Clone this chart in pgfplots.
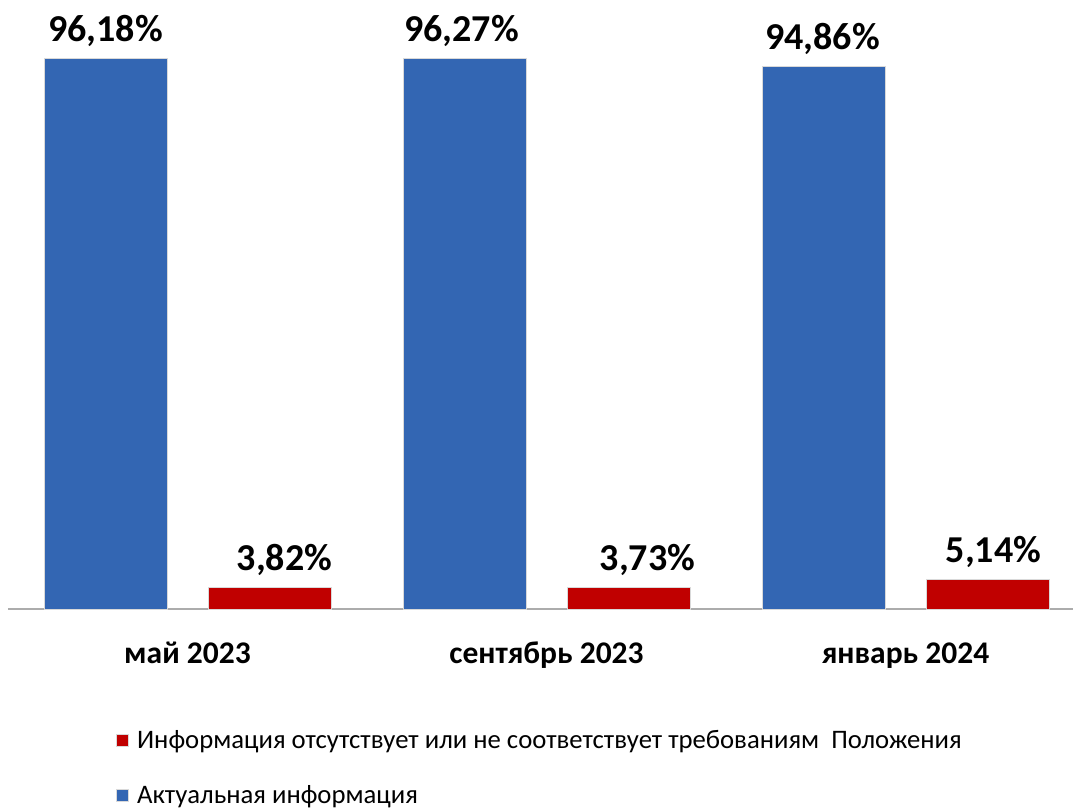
\documentclass[border=0pt]{standalone}
\usepackage{fontspec}
\setmainfont{Carlito}
\usepackage{pgfplots}
\usepackage{pgfplotstable}
\pgfplotsset{compat=1.18}
\definecolor{barblue}{HTML}{3366B3}
\definecolor{barred}{HTML}{C00000}
\pgfplotstableread{
x y shift
0 96.18 -82
1 96.27 -85
2 94.86 -83
}\actual
\pgfplotstableread{
x y shift
0 3.82 97
1 3.73 101
2 5.14 88
}\missing
\def\myshift{0}
\begin{document}
\begin{tikzpicture}
\useasboundingbox (0,0) rectangle (1073pt,809pt);
\begin{axis}[
  at={(8pt,200pt)}, anchor=south west,
  scale only axis, width=1065pt, height=572pt,
  xmin=-0.5, xmax=2.4666, ymin=0, ymax=100,
  axis y line=none, axis x line*=bottom,
  x axis line style={draw=gray!65, line width=1.5pt},
  clip=false,
  xtick={0,1,2},
  xticklabels={май 2023, сентябрь 2023, январь 2024},
  major tick length=0pt,
  xticklabel style={font=\bfseries\fontsize{31.5}{32}\selectfont, anchor=base, yshift=-54pt},
  visualization depends on={\thisrow{shift} \as \myshift},
  nodes near coords={\pgfmathprintnumber[fixed,fixed zerofill,precision=2,use comma,assume math mode=true]{\pgfplotspointmeta}\%},
  every node near coord/.append style={font=\bfseries\fontsize{38}{38}\selectfont, anchor=base, yshift=17pt, xshift=\myshift pt, text=black},
  legend style={draw=none, fill=none, at={(axis description cs:0.1015,-0.208)}, anchor=north west,
    font=\fontsize{26.7}{30}\selectfont, row sep=32pt, inner sep=0pt},
  legend cell align=left,
  legend image code/.code={\fill[#1] (0pt,-6pt) rectangle (12pt,6pt); \path (18pt,0pt);},
]
\addplot[ybar, bar width=123pt, bar shift=82pt, fill=barred, draw=gray!30, line width=0.8pt]
  table[x=x, y=y] {\missing};
\addlegendentry{Информация отсутствует или не соответствует требованиям\ \ Положения}
\addplot[ybar, bar width=123pt, bar shift=-82pt, fill=barblue, draw=gray!30, line width=0.8pt]
  table[x=x, y=y] {\actual};
\addlegendentry{Актуальная информация}
\end{axis}
\end{tikzpicture}
\end{document}
